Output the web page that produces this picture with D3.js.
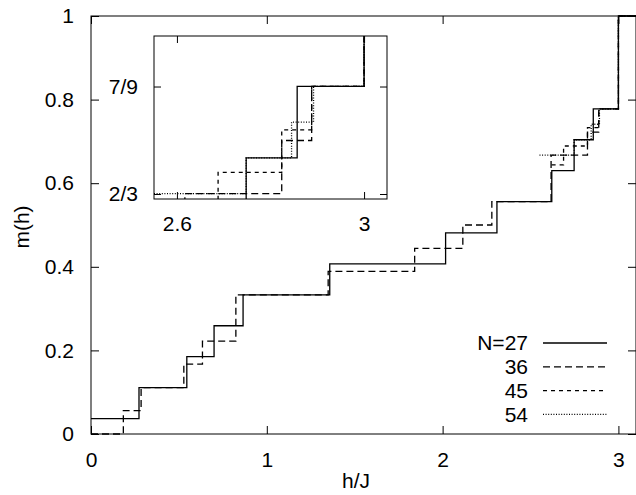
<!DOCTYPE html>
<html lang="en">
<head>
<meta charset="UTF-8">
<title>m(h) steps</title>
<style>
  body { margin: 0; background: #fff; }
  text { font-family: "Liberation Sans", Arial, sans-serif; fill: #000; }
</style>
</head>
<body>
<script src="https://cdn.jsdelivr.net/npm/d3@7"></script>
<script>
// step edges (h/J) and plateau values m(h) for each system size
var h27 = [0, 0.273, 0.545, 0.700, 0.865, 1.358, 2.017, 2.309, 2.621, 2.748, 2.857, 3.0, 3.1];
var m27 = [0.037, 0.111, 0.185, 0.259, 0.333, 0.407, 0.481, 0.556, 0.630, 0.704, 0.778, 1];

var h36 = [0, 0.184, 0.285, 0.528, 0.634, 0.824, 1.349, 1.841, 2.115, 2.280, 2.617, 2.824, 2.888, 3.0, 3.1];
var m36 = [0, 0.056, 0.111, 0.167, 0.222, 0.333, 0.389, 0.444, 0.500, 0.556, 0.667, 0.722, 0.778, 1];

var h45 = [2.620, 2.688, 2.824, 2.888, 3.0, 3.1];
var m45 = [0.644, 0.689, 0.733, 0.778, 1];

var h54 = [2.551, 2.748, 2.845, 2.892, 3.0, 3.1];
var m54 = [0.667, 0.704, 0.741, 0.778, 1];

var labels = ["N=27", "36", "45", "54"];
var xTicks = [0, 1, 2, 3];
var yTicks = [0, 0.2, 0.4, 0.6, 0.8, 1];
var insetXTicks = [2.6, 3];
var insetYTicks = [2 / 3, 7 / 9];
var insetYLabels = ["2/3", "7/9"];

var W = 636, H = 495;
var svg = d3.select("body").append("svg").attr("width", W).attr("height", H);

function steps(hs, ms) {
    var pts = ms.map(function(m, i) { return [hs[i], m]; });
    pts.push([hs[hs.length - 1], ms[ms.length - 1]]);
    return pts;
}
var series = [
    {pts: steps(h27, m27), dash: null},
    {pts: steps(h36, m36), dash: "7,4"},
    {pts: steps(h45, m45), dash: "4,4"},
    {pts: steps(h54, m54), dash: "1,1.6"}
];

// main panel
var L = 91, R = 636, T = 16, B = 434;
var x = d3.scaleLinear().domain([0, 3.1]).range([L, R]);
var y = d3.scaleLinear().domain([0, 1]).range([B, T]);

svg.append("clipPath").attr("id", "cm").append("rect")
    .attr("x", L).attr("y", T - 1).attr("width", R - L).attr("height", B - T + 2);

var line = d3.line().x(function(d) { return x(d[0]); }).y(function(d) { return y(d[1]); })
    .curve(d3.curveStepAfter);

var g = svg.append("g");
g.selectAll("path.s").data(series).enter().append("path")
    .attr("class", "s")
    .attr("clip-path", "url(#cm)")
    .attr("d", function(d) { return line(d.pts); })
    .attr("fill", "none").attr("stroke", "#000").attr("stroke-width", 1.3)
    .attr("stroke-dasharray", function(d) { return d.dash; });

// frame + ticks
svg.append("rect").attr("x", L).attr("y", T).attr("width", R - L).attr("height", B - T)
    .attr("fill", "none").attr("stroke", "#000").attr("stroke-width", 1);

var tk = 8;
svg.append("g").attr("transform", "translate(0," + B + ")")
    .call(d3.axisBottom(x).tickValues(xTicks).tickSize(-tk).tickPadding(tk + 10).tickFormat(d3.format("d")))
    .call(function(a) { a.select(".domain").remove(); });
svg.append("g").attr("transform", "translate(0," + T + ")")
    .call(d3.axisTop(x).tickValues(xTicks).tickSize(-tk).tickFormat(""))
    .call(function(a) { a.select(".domain").remove(); });
svg.append("g").attr("transform", "translate(" + L + ",0)")
    .call(d3.axisLeft(y).tickValues(yTicks).tickSize(-tk).tickPadding(tk + 9).tickFormat(d3.format("")))
    .call(function(a) { a.select(".domain").remove(); });
svg.append("g").attr("transform", "translate(" + R + ",0)")
    .call(d3.axisRight(y).tickValues(yTicks).tickSize(-tk).tickFormat(""))
    .call(function(a) { a.select(".domain").remove(); });

svg.selectAll(".tick text").attr("font-size", 21).attr("font-family", "Liberation Sans, Arial, sans-serif");
svg.selectAll(".tick line").attr("stroke", "#000");

svg.append("text").attr("x", 356).attr("y", 488).attr("text-anchor", "middle")
    .attr("font-size", 21).text("h/J");
svg.append("text").attr("transform", "translate(29,227) rotate(-90)").attr("text-anchor", "middle")
    .attr("font-size", 21).text("m(h)");

// legend
var lg = svg.append("g");
labels.forEach(function(t, i) {
    var ly = 343 + i * 23.8;
    lg.append("text").attr("x", 528).attr("y", ly).attr("dy", "0.35em")
        .attr("text-anchor", "end").attr("font-size", 21).text(t);
    lg.append("line").attr("x1", 543).attr("x2", 607).attr("y1", ly).attr("y2", ly)
        .attr("stroke", "#000").attr("stroke-width", 1.3)
        .attr("stroke-dasharray", series[i].dash);
});

// inset
var iL = 154, iR = 387, iT = 36, iB = 199;
var xi = d3.scaleLinear().domain([2.551, 3.049]).range([iL, iR]);
var yi = d3.scaleLinear().domain([0.6615, 0.830]).range([iB, iT]);

svg.append("rect").attr("x", iL).attr("y", iT).attr("width", iR - iL).attr("height", iB - iT)
    .attr("fill", "#fff");
svg.append("clipPath").attr("id", "ci").append("rect")
    .attr("x", iL).attr("y", iT).attr("width", iR - iL).attr("height", iB - iT);

var linei = d3.line().x(function(d) { return xi(d[0]); }).y(function(d) { return yi(d[1]); })
    .curve(d3.curveStepAfter);
svg.append("g").selectAll("path").data(series).enter().append("path")
    .attr("clip-path", "url(#ci)")
    .attr("d", function(d) { return linei(d.pts); })
    .attr("fill", "none").attr("stroke", "#000").attr("stroke-width", 1.3)
    .attr("stroke-dasharray", function(d) { return d.dash; });

svg.append("rect").attr("x", iL).attr("y", iT).attr("width", iR - iL).attr("height", iB - iT)
    .attr("fill", "none").attr("stroke", "#000").attr("stroke-width", 1);

var itk = 7;
var ia = svg.append("g").attr("class", "inset");
ia.append("g").attr("transform", "translate(0," + iB + ")")
    .call(d3.axisBottom(xi).tickValues(insetXTicks).tickSize(-itk).tickPadding(itk + 10)
        .tickFormat(function(d) { return d === 3 ? "3" : d3.format(".1f")(d); }))
    .call(function(a) { a.select(".domain").remove(); });
ia.append("g").attr("transform", "translate(0," + iT + ")")
    .call(d3.axisTop(xi).tickValues(insetXTicks).tickSize(-itk).tickFormat(""))
    .call(function(a) { a.select(".domain").remove(); });
ia.append("g").attr("transform", "translate(" + iL + ",0)")
    .call(d3.axisLeft(yi).tickValues(insetYTicks).tickSize(-itk).tickPadding(itk + 9)
        .tickFormat(function(d, i) { return insetYLabels[i]; }))
    .call(function(a) { a.select(".domain").remove(); });
ia.append("g").attr("transform", "translate(" + iR + ",0)")
    .call(d3.axisRight(yi).tickValues(insetYTicks).tickSize(-itk).tickFormat(""))
    .call(function(a) { a.select(".domain").remove(); });
ia.selectAll(".tick text").attr("font-size", 21).attr("font-family", "Liberation Sans, Arial, sans-serif");
ia.selectAll(".tick line").attr("stroke", "#000");
</script>
</body>
</html>
